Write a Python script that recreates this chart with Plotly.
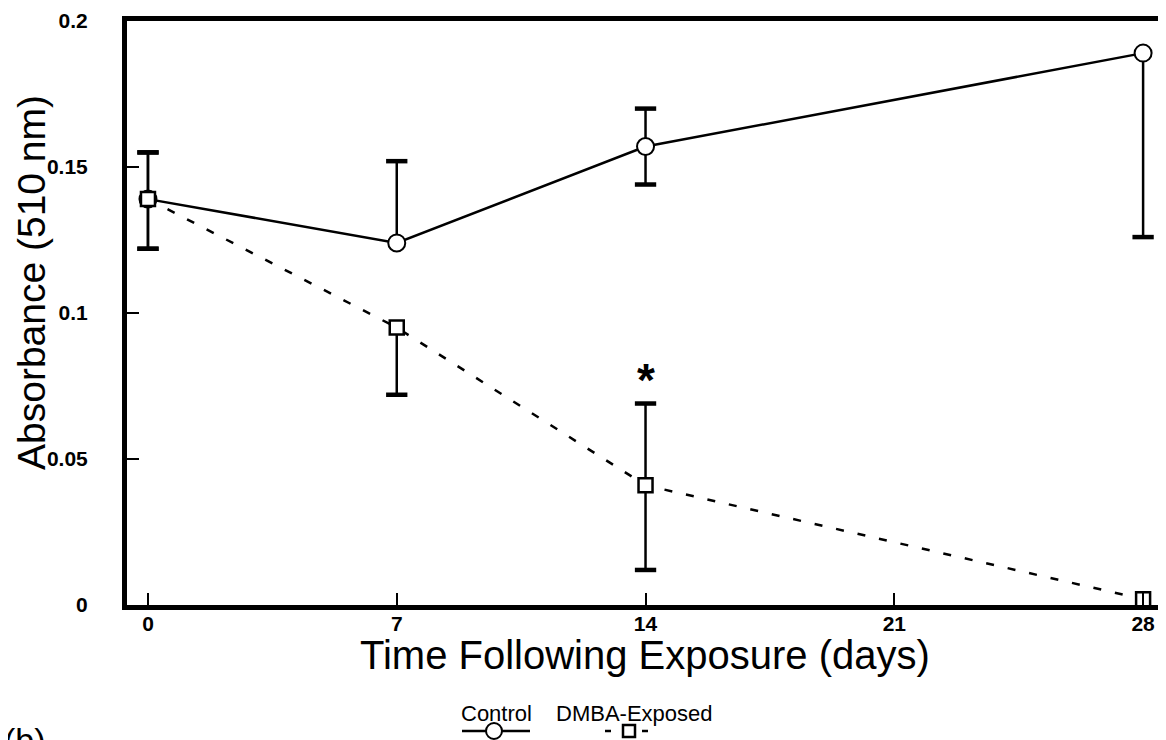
import plotly.graph_objects as go

# ---------------- data ----------------
days = [0, 7, 14, 28]
control_mean = [0.139, 0.124, 0.157, 0.189]
control_err_up = [0.016, 0.028, 0.013, 0.0]
control_err_down = [0.017, 0.0, 0.013, 0.063]
dmba_mean = [0.139, 0.095, 0.041, 0.002]
dmba_err_up = [0.016, 0.0, 0.028, 0.0]
dmba_err_down = [0.017, 0.023, 0.029, 0.0]
x_ticks = [0, 7, 14, 21, 28]
y_ticks = [0, 0.05, 0.1, 0.15, 0.2]
y_tick_text = ["0", "0.05", "0.1", "0.15", "0.2"]
series_names = ["Control", "DMBA-Exposed"]
x_title = "Time Following Exposure (days)"
y_title = "Absorbance (510 nm)"
panel_label = "(b)"
signif_mark = "*"

W, H = 1166, 740
OFF = 8  # page body margin offset
# plot area in reference pixels: x 127..1163, y 21..605
ML = 127 - OFF
MT = 21 - OFF
MB = H - (605 - OFF)
MR = W - (1163 - OFF)
PW, PH = W - ML - MR, H - MT - MB
FONT = "Liberation Sans, Arial, Helvetica, sans-serif"
CAP = 0.3  # cap half-width in days


def px(xr):
    return (xr - OFF - ML) / PW


def py(yr):
    return (H - MB - (yr - OFF)) / PH


def err_paths(xs, means, ups, downs):
    sx, sy, cx, cy = [], [], [], []
    for x, m, u, d in zip(xs, means, ups, downs):
        for end in ([m + u] if u > 0 else []) + ([m - d] if d > 0 else []):
            sx += [x, x, None]
            sy += [m, end, None]
            cx += [x - CAP, x + CAP, None]
            cy += [end, end, None]
    return sx, sy, cx, cy


fig = go.Figure()

for means, ups, downs in [(control_mean, control_err_up, control_err_down),
                          (dmba_mean, dmba_err_up, dmba_err_down)]:
    sx, sy, cx, cy = err_paths(days, means, ups, downs)
    fig.add_trace(go.Scatter(x=sx, y=sy, mode="lines", line=dict(color="black", width=2.5),
                             showlegend=False, hoverinfo="skip"))
    fig.add_trace(go.Scatter(x=cx, y=cy, mode="lines", line=dict(color="black", width=4.5),
                             showlegend=False, hoverinfo="skip"))

fig.add_trace(go.Scatter(
    x=days, y=control_mean, mode="lines+markers", name=series_names[0],
    line=dict(color="black", width=2.5),
    marker=dict(symbol="circle", size=17, color="white", line=dict(color="black", width=2)),
    showlegend=False))
fig.add_trace(go.Scatter(
    x=days, y=dmba_mean, mode="lines+markers", name=series_names[1],
    line=dict(color="black", width=2.5, dash="8px,14px"),
    marker=dict(symbol="square", size=14, color="white", line=dict(color="black", width=2.5)),
    showlegend=False))

annotations = [
    dict(text=x_title, xref="paper", yref="paper", x=px(645), y=py(655), xanchor="center",
         yanchor="middle", showarrow=False, font=dict(family=FONT, size=40, color="black")),
    dict(text=y_title, xref="paper", yref="paper", x=px(31), y=py(283), xanchor="center",
         yanchor="middle", textangle=-90, showarrow=False, borderpad=0,
         font=dict(family=FONT, size=39, color="black")),
    dict(text=signif_mark, x=days[2], y=dmba_mean[2] + dmba_err_up[2], xref="x", yref="y",
         yanchor="bottom", yshift=-4, showarrow=False,
         font=dict(family=FONT, size=46, color="black", weight="bold")),
    dict(text=panel_label, xref="paper", yref="paper", x=px(2), y=py(719), xanchor="left",
         yanchor="top", showarrow=False, font=dict(family=FONT, size=34, color="black")),
    dict(text=series_names[0], xref="paper", yref="paper", x=px(496), y=py(713),
         xanchor="center", yanchor="middle", showarrow=False,
         font=dict(family=FONT, size=22, color="black")),
    dict(text=series_names[1], xref="paper", yref="paper", x=px(634), y=py(713),
         xanchor="center", yanchor="middle", showarrow=False,
         font=dict(family=FONT, size=22, color="black")),
]

shapes = [
    # right frame edge (thinner)
    dict(type="line", xref="paper", yref="paper", x0=1, x1=1, y0=0, y1=1,
         line=dict(color="black", width=2)),
    # legend samples
    dict(type="line", xref="paper", yref="paper", x0=px(462), x1=px(530), y0=py(731), y1=py(731),
         line=dict(color="black", width=2.5)),
    dict(type="circle", xref="paper", yref="paper", x0=px(486), x1=px(502), y0=py(739), y1=py(723),
         fillcolor="white", line=dict(color="black", width=2)),
    dict(type="line", xref="paper", yref="paper", x0=px(605), x1=px(611), y0=py(731), y1=py(731),
         line=dict(color="black", width=2.5)),
    dict(type="line", xref="paper", yref="paper", x0=px(642), x1=px(648), y0=py(731), y1=py(731),
         line=dict(color="black", width=2.5)),
    dict(type="rect", xref="paper", yref="paper", x0=px(623), x1=px(635), y0=py(737), y1=py(725),
         fillcolor="white", line=dict(color="black", width=2.5)),
]

fig.update_layout(
    width=W, height=H,
    margin=dict(l=ML, r=MR, t=MT, b=MB, autoexpand=False),
    paper_bgcolor="white", plot_bgcolor="white",
    font=dict(family=FONT, color="black"),
    showlegend=False,
    annotations=annotations,
    shapes=shapes,
    xaxis=dict(range=[-0.59, 28.56], tickvals=x_ticks, ticktext=[str(t) for t in x_ticks],
               ticks="inside", ticklen=12, tickwidth=1.5, tickcolor="black",
               showline=True, linewidth=5, linecolor="black", mirror=True,
               showgrid=False, zeroline=False, ticklabelstandoff=-4,
               tickfont=dict(family=FONT, size=21, color="black", weight="bold")),
    yaxis=dict(range=[0, 0.2], tickvals=y_ticks, ticktext=y_tick_text,
               ticks="inside", ticklen=12, tickwidth=1.5, tickcolor="black",
               showline=True, linewidth=5, linecolor="black", mirror=False,
               showgrid=False, zeroline=False, ticklabelstandoff=30,
               tickfont=dict(family=FONT, size=21, color="black", weight="bold")),
)

fig.write_html("out.html")
